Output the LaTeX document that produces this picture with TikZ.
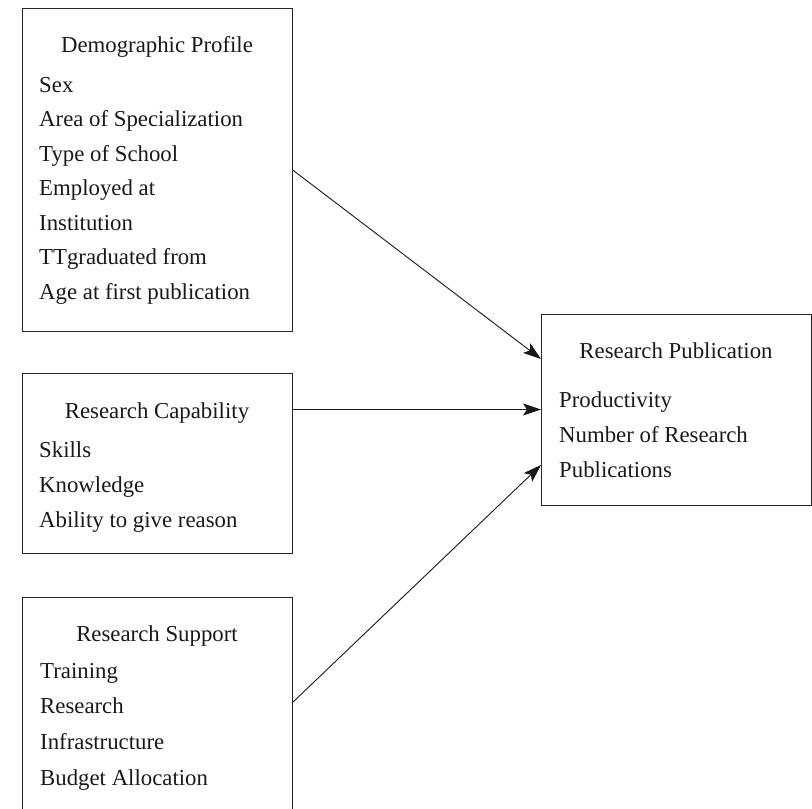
\documentclass[tikz,border=0pt]{standalone}
\usepackage{fontspec}
\setmainfont{Liberation Serif}
\usetikzlibrary{arrows.meta}
\begin{document}
\begin{tikzpicture}[x=1pt,y=-1pt,
  box/.style={draw=black!85,line width=1pt,inner sep=0pt,outer sep=0pt,anchor=north west,minimum width=270pt},
  ttl/.style={anchor=base,inner sep=0pt,font=\fontsize{22.8}{27}\selectfont,text=black!90},
  itm/.style={anchor=base west,inner sep=0pt,font=\fontsize{22.8}{27}\selectfont,text=black!90},
  conn/.style={line width=0.9pt,draw=black!90,-{Stealth[length=18pt,width=12pt,inset=4pt]}}]
\useasboundingbox (0,0) rectangle (812,809);
% boxes
\node[box,minimum height=323pt] (demo) at (22,8) {};
\node[box,minimum height=180pt] (cap) at (22,373) {};
\node[box,minimum height=223pt] (sup) at (22,597) {};
\node[box,minimum height=191pt] (pub) at (541,314) {};
% box 1 text
\node[ttl] (t1) at (157,52) {Demographic Profile};
\node[itm] (d1) at (39,92) {Sex};
\node[itm] (d2) at (39,126.5) {Area of Specialization};
\node[itm] (d3) at (39,161) {Type of School};
\node[itm] (d4) at (39,195.5) {Employed at};
\node[itm] (d5) at (39,230) {Institution};
\node[itm] (d6) at (39,264.5) {TTgraduated from};
\node[itm] (d7) at (39,299) {Age at first publication};
% box 2 text
\node[ttl] (t2) at (157,418) {Research Capability};
\node[itm] (c1) at (39,457) {Skills};
\node[itm] (c2) at (39,492.5) {Knowledge};
\node[itm] (c3) at (39,527.5) {Ability to give reason};
% box 3 text
\node[ttl] (t3) at (157,641) {Research Support};
\node[itm] (s1) at (40,678) {Training};
\node[itm] (s2) at (40,713.5) {Research};
\node[itm] (s3) at (40,749) {Infrastructure};
\node[itm] (s4) at (40,785) {Budget Allocation};
% box 4 text
\node[ttl] (t4) at (676,358) {Research Publication};
\node[itm] (p1) at (559,407) {Productivity};
\node[itm] (p2) at (559,442) {Number of Research};
\node[itm] (p3) at (559,477) {Publications};
% connectors
\draw[conn] (demo.east) -- ([yshift=-45pt]pub.north west);
\draw[conn] (pub.west -| cap.east) -- (pub.west);
\draw[conn] ([yshift=-106pt]sup.north east) -- ([yshift=40pt]pub.south west);
\end{tikzpicture}
\end{document}
